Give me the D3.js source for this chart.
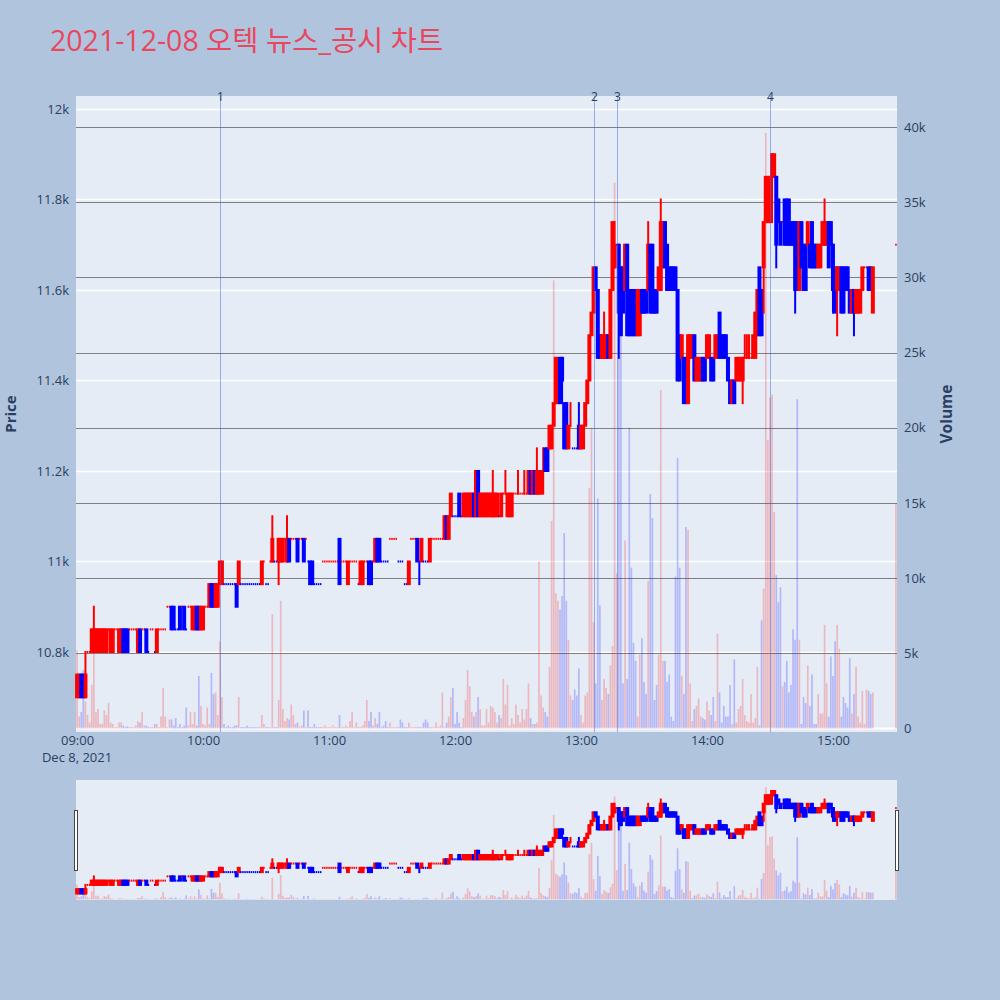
<!DOCTYPE html>
<html><head><meta charset="utf-8">
<script src="https://cdn.jsdelivr.net/npm/d3@7"></script>
<style>
body{margin:0;background:#B0C4DE;}
svg{display:block;font-family:"Open Sans",verdana,arial,"Noto Sans CJK KR",sans-serif;}
</style>
</head><body><svg id="c" width="1000" height="1000"></svg>
<script>
const titleText = "2021-12-08 오텍 뉴스_공시 차트";
const dateLabel = "Dec 8, 2021";

const times = [
"09:00","09:01","09:02","09:03","09:04","09:05","09:06","09:07","09:08","09:09",
"09:10","09:11","09:12","09:13","09:14","09:15","09:16","09:17","09:18","09:19",
"09:20","09:21","09:22","09:23","09:24","09:25","09:26","09:27","09:28","09:29",
"09:30","09:31","09:32","09:33","09:34","09:35","09:36","09:37","09:38","09:39",
"09:40","09:41","09:42","09:43","09:44","09:45","09:46","09:47","09:48","09:49",
"09:50","09:51","09:52","09:53","09:54","09:55","09:56","09:57","09:58","09:59",
"10:00","10:01","10:02","10:03","10:04","10:05","10:06","10:07","10:08","10:09",
"10:10","10:11","10:12","10:13","10:14","10:15","10:16","10:17","10:18","10:19",
"10:20","10:21","10:22","10:23","10:24","10:25","10:26","10:27","10:28","10:29",
"10:30","10:31","10:32","10:33","10:34","10:35","10:36","10:37","10:38","10:39",
"10:40","10:41","10:42","10:43","10:44","10:45","10:46","10:47","10:48","10:49",
"10:50","10:51","10:52","10:53","10:54","10:55","10:56","10:57","10:58","10:59",
"11:00","11:01","11:02","11:03","11:04","11:05","11:06","11:07","11:08","11:09",
"11:10","11:11","11:12","11:13","11:14","11:15","11:16","11:17","11:18","11:19",
"11:20","11:21","11:22","11:23","11:24","11:25","11:26","11:27","11:28","11:29",
"11:30","11:31","11:32","11:33","11:34","11:35","11:36","11:37","11:38","11:39",
"11:40","11:41","11:42","11:43","11:44","11:45","11:46","11:47","11:48","11:49",
"11:50","11:51","11:52","11:53","11:54","11:55","11:56","11:57","11:58","11:59",
"12:00","12:01","12:02","12:03","12:04","12:05","12:06","12:07","12:08","12:09",
"12:10","12:11","12:12","12:13","12:14","12:15","12:16","12:17","12:18","12:19",
"12:20","12:21","12:22","12:23","12:24","12:25","12:26","12:27","12:28","12:29",
"12:30","12:31","12:32","12:33","12:34","12:35","12:36","12:37","12:38","12:39",
"12:40","12:41","12:42","12:43","12:44","12:45","12:46","12:47","12:48","12:49",
"12:50","12:51","12:52","12:53","12:54","12:55","12:56","12:57","12:58","12:59",
"13:00","13:01","13:02","13:03","13:04","13:05","13:06","13:07","13:08","13:09",
"13:10","13:11","13:12","13:13","13:14","13:15","13:16","13:17","13:18","13:19",
"13:20","13:21","13:22","13:23","13:24","13:25","13:26","13:27","13:28","13:29",
"13:30","13:31","13:32","13:33","13:34","13:35","13:36","13:37","13:38","13:39",
"13:40","13:41","13:42","13:43","13:44","13:45","13:46","13:47","13:48","13:49",
"13:50","13:51","13:52","13:53","13:54","13:55","13:56","13:57","13:58","13:59",
"14:00","14:01","14:02","14:03","14:04","14:05","14:06","14:07","14:08","14:09",
"14:10","14:11","14:12","14:13","14:14","14:15","14:16","14:17","14:18","14:19",
"14:20","14:21","14:22","14:23","14:24","14:25","14:26","14:27","14:28","14:29",
"14:30","14:31","14:32","14:33","14:34","14:35","14:36","14:37","14:38","14:39",
"14:40","14:41","14:42","14:43","14:44","14:45","14:46","14:47","14:48","14:49",
"14:50","14:51","14:52","14:53","14:54","14:55","14:56","14:57","14:58","14:59",
"15:00","15:01","15:02","15:03","15:04","15:05","15:06","15:07","15:08","15:09",
"15:10","15:11","15:12","15:13","15:14","15:15","15:16","15:17","15:18","15:19",
"15:30"];

const opens = [
10700,10700,10750,10750,10700,10800,10800,10800,10800,10800,
10800,10800,10800,10800,10800,10850,10800,10800,10850,10850,
10800,10800,10850,10850,10850,10850,10850,10850,10850,10800,
10850,10850,10850,10850,10800,10850,10850,10800,10800,10850,
10850,10850,10850,10900,10900,10900,10900,10850,10850,10900,
10900,10900,10850,10900,10900,10850,10850,10900,10900,10850,
10850,10900,10900,10900,10950,10950,10900,10900,10950,10950,
10950,10950,10950,10950,10950,10950,10950,10950,10950,10950,
10950,10950,10950,10950,10950,10950,10950,10950,10950,11000,
10950,10950,11000,11000,11000,11000,11000,11000,11000,11050,
11000,11050,11050,11050,11050,11050,11050,11050,11050,11050,
11000,11000,11000,10950,10950,10950,10950,11000,11000,11000,
11000,11000,11000,11000,11000,11050,11000,11000,11000,10950,
11000,11000,11000,11000,10950,10950,10950,11000,11000,11000,
11000,11000,11000,11050,11050,11000,11000,11000,11000,11050,
11050,11050,11050,11000,11000,11000,10950,10950,10950,11050,
11050,11050,11050,11000,11000,11000,11000,11000,11000,11050,
11050,11050,11050,11050,11050,11050,11100,11050,11100,11100,
11100,11100,11150,11100,11100,11100,11100,11100,11100,11150,
11100,11200,11100,11100,11100,11100,11100,11100,11100,11100,
11100,11100,11100,11150,11150,11100,11100,11100,11150,11150,
11150,11150,11150,11150,11150,11150,11200,11150,11200,11150,
11150,11150,11200,11250,11250,11250,11250,11300,11350,11350,
11450,11450,11350,11350,11250,11300,11250,11250,11250,11300,
11250,11250,11300,11350,11400,11500,11550,11650,11600,11500,
11450,11450,11450,11500,11450,11600,11650,11700,11700,11650,
11650,11600,11700,11600,11600,11600,11600,11500,11500,11600,
11600,11600,11600,11700,11700,11600,11600,11600,11600,11650,
11750,11700,11650,11650,11650,11650,11600,11500,11450,11450,
11450,11350,11450,11450,11500,11400,11400,11400,11450,11450,
11450,11450,11450,11450,11450,11450,11550,11500,11500,11500,
11450,11400,11350,11400,11400,11400,11400,11400,11450,11450,
11450,11450,11450,11450,11500,11650,11600,11650,11750,11750,
11750,11850,11850,11850,11800,11750,11750,11800,11800,11800,
11750,11750,11750,11750,11600,11750,11700,11700,11700,11700,
11750,11700,11700,11650,11650,11700,11700,11700,11750,11750,
11700,11650,11600,11600,11650,11650,11650,11650,11600,11550,
11600,11550,11550,11550,11600,11650,11650,11650,11650,11550,
11700];

const highs = [
10750,10750,10750,10750,10800,10800,10800,10850,10900,10850,
10850,10850,10850,10850,10850,10850,10850,10850,10850,10850,
10850,10850,10850,10850,10850,10850,10850,10850,10850,10850,
10850,10850,10850,10850,10800,10850,10850,10800,10850,10850,
10850,10850,10850,10900,10900,10900,10900,10850,10850,10900,
10900,10900,10850,10900,10900,10900,10900,10900,10900,10900,
10900,10900,10900,10950,10950,10950,10950,10950,11000,11000,
10950,10950,10950,10950,10950,10950,10950,11000,10950,10950,
10950,10950,10950,10950,10950,10950,10950,10950,11000,11000,
10950,10950,11000,11100,11000,11000,11050,11050,11050,11050,
11100,11050,11050,11050,11050,11050,11050,11050,11050,11050,
11000,11000,11000,10950,10950,10950,10950,11000,11000,11000,
11000,11000,11000,11000,11000,11050,11000,11000,11000,11000,
11000,11000,11000,11000,10950,11000,11000,11000,11000,11000,
11000,11000,11050,11050,11050,11000,11000,11000,11000,11050,
11050,11050,11050,11000,11000,11000,10950,10950,11000,11050,
11050,11050,11050,11000,11050,11000,11000,11000,11050,11050,
11050,11050,11050,11050,11050,11100,11100,11100,11150,11100,
11100,11100,11150,11100,11150,11150,11150,11150,11150,11150,
11200,11200,11150,11150,11150,11150,11150,11150,11200,11150,
11150,11100,11150,11150,11200,11150,11150,11150,11150,11150,
11200,11150,11150,11200,11150,11200,11200,11200,11200,11250,
11200,11200,11250,11250,11250,11300,11300,11350,11450,11450,
11450,11450,11350,11350,11300,11350,11250,11250,11250,11350,
11300,11300,11350,11400,11500,11550,11650,11650,11600,11500,
11500,11550,11500,11500,11600,11750,11750,11700,11700,11650,
11650,11700,11700,11600,11600,11600,11600,11600,11600,11600,
11600,11600,11750,11700,11700,11600,11600,11650,11800,11750,
11750,11700,11650,11650,11650,11650,11600,11500,11500,11450,
11450,11500,11500,11500,11500,11450,11450,11450,11450,11450,
11500,11500,11450,11450,11500,11500,11550,11500,11500,11500,
11450,11400,11400,11400,11450,11450,11450,11450,11500,11500,
11500,11450,11500,11550,11600,11650,11600,11750,11850,11850,
11850,11900,11900,11850,11800,11750,11750,11800,11800,11800,
11750,11750,11750,11750,11750,11750,11700,11700,11750,11700,
11750,11700,11700,11700,11700,11750,11800,11750,11750,11750,
11700,11650,11650,11650,11650,11650,11650,11650,11600,11600,
11600,11600,11600,11600,11650,11650,11650,11650,11650,11650,
11700];

const lows = [
10700,10700,10700,10700,10700,10800,10800,10800,10800,10800,
10800,10800,10800,10800,10800,10850,10800,10800,10850,10850,
10800,10800,10800,10800,10800,10850,10850,10850,10850,10800,
10800,10850,10850,10800,10800,10850,10850,10800,10800,10850,
10850,10850,10850,10900,10900,10850,10850,10850,10850,10850,
10900,10850,10850,10900,10900,10850,10850,10850,10850,10850,
10850,10900,10900,10900,10900,10900,10900,10900,10950,10950,
10950,10950,10950,10950,10950,10950,10900,10950,10950,10950,
10950,10950,10950,10950,10950,10950,10950,10950,10950,11000,
10950,10950,11000,11000,11000,11000,10950,11000,11000,11050,
11000,11000,11050,11050,11050,11000,11050,11050,11000,11050,
11000,10950,10950,10950,10950,10950,10950,11000,11000,11000,
11000,11000,11000,11000,11000,10950,11000,11000,11000,10950,
11000,11000,11000,11000,10950,10950,10950,11000,11000,10950,
10950,11000,11000,11000,11000,11000,11000,11000,11000,11050,
11050,11050,11050,11000,11000,11000,10950,10950,10950,11050,
11050,11050,11000,10950,11000,11000,11000,11000,11000,11050,
11050,11050,11050,11050,11050,11050,11050,11050,11100,11100,
11100,11100,11100,11100,11100,11100,11100,11100,11100,11100,
11100,11100,11100,11100,11100,11100,11100,11100,11100,11100,
11100,11100,11100,11150,11150,11100,11100,11100,11150,11150,
11150,11150,11150,11150,11150,11150,11150,11150,11150,11150,
11150,11150,11150,11200,11200,11250,11250,11300,11350,11350,
11350,11350,11250,11250,11250,11300,11250,11250,11250,11250,
11250,11250,11300,11350,11400,11500,11550,11600,11450,11450,
11450,11450,11450,11450,11450,11600,11650,11700,11450,11500,
11550,11600,11500,11500,11500,11500,11500,11500,11500,11550,
11550,11550,11600,11550,11550,11550,11550,11600,11600,11650,
11650,11600,11600,11600,11600,11600,11400,11400,11450,11350,
11350,11350,11450,11450,11400,11400,11400,11400,11400,11400,
11450,11450,11400,11400,11450,11450,11450,11450,11450,11450,
11400,11350,11350,11350,11400,11400,11400,11350,11450,11450,
11450,11450,11450,11450,11500,11500,11500,11550,11750,11750,
11750,11750,11850,11650,11750,11700,11750,11700,11700,11700,
11700,11700,11550,11600,11600,11650,11600,11600,11700,11650,
11650,11650,11650,11650,11650,11700,11700,11700,11650,11700,
11550,11550,11500,11600,11550,11550,11600,11600,11550,11550,
11500,11550,11550,11550,11600,11650,11650,11600,11600,11550,
11700];

const closes = [
10750,10750,10700,10700,10750,10800,10800,10850,10850,10850,
10850,10850,10850,10850,10850,10850,10850,10850,10850,10850,
10850,10850,10800,10800,10800,10850,10850,10850,10850,10850,
10800,10850,10850,10800,10800,10850,10850,10800,10850,10850,
10850,10850,10850,10900,10900,10850,10850,10850,10850,10850,
10900,10850,10850,10900,10900,10900,10900,10850,10850,10900,
10900,10900,10900,10950,10900,10900,10950,10950,11000,11000,
10950,10950,10950,10950,10950,10950,10900,11000,10950,10950,
10950,10950,10950,10950,10950,10950,10950,10950,11000,11000,
10950,10950,11000,11050,11000,11000,11050,11050,11050,11050,
11050,11000,11050,11050,11050,11000,11050,11050,11000,11050,
11000,10950,10950,10950,10950,10950,10950,11000,11000,11000,
11000,11000,11000,11000,11000,10950,11000,11000,11000,11000,
11000,11000,11000,11000,10950,11000,11000,11000,11000,10950,
10950,11000,11050,11000,11000,11000,11000,11000,11000,11050,
11050,11050,11050,11000,11000,11000,10950,10950,11000,11050,
11050,11050,11000,11000,11050,11000,11000,11000,11050,11050,
11050,11050,11050,11050,11050,11100,11050,11100,11150,11100,
11100,11100,11100,11100,11150,11150,11150,11150,11150,11100,
11200,11100,11150,11150,11150,11150,11150,11150,11150,11150,
11150,11100,11150,11150,11150,11150,11150,11150,11150,11150,
11150,11150,11150,11150,11150,11200,11150,11200,11150,11200,
11200,11200,11200,11200,11200,11300,11300,11350,11450,11450,
11350,11400,11250,11250,11300,11300,11250,11250,11250,11250,
11300,11300,11350,11400,11500,11550,11650,11600,11450,11450,
11500,11500,11500,11450,11600,11750,11700,11700,11550,11500,
11550,11700,11500,11500,11500,11500,11500,11600,11600,11550,
11550,11550,11700,11550,11550,11550,11550,11650,11750,11750,
11650,11600,11600,11600,11600,11600,11400,11400,11500,11350,
11350,11500,11500,11500,11400,11450,11450,11450,11400,11400,
11500,11500,11400,11400,11500,11500,11450,11450,11450,11450,
11400,11350,11400,11350,11450,11450,11450,11450,11450,11450,
11450,11450,11500,11550,11600,11500,11500,11750,11850,11850,
11850,11900,11900,11700,11750,11700,11750,11700,11700,11700,
11700,11700,11600,11600,11750,11650,11600,11600,11750,11650,
11650,11650,11650,11700,11700,11750,11750,11750,11650,11700,
11600,11550,11650,11650,11550,11550,11600,11600,11550,11600,
11550,11600,11600,11600,11650,11650,11650,11600,11600,11650,
11700];

const volumes = [
5200,800,1100,3900,1800,900,400,2900,8000,1100,
1300,300,300,1200,900,1700,400,300,100,100,
400,400,200,100,150,100,100,100,200,500,
400,1100,200,200,100,100,100,300,300,100,
800,2700,800,100,600,600,200,700,100,300,
100,200,1400,200,1100,300,1100,200,3500,1500,
300,200,1400,300,3700,2300,2400,900,5800,2100,
300,100,200,100,100,200,200,2100,100,100,
100,200,100,100,100,100,100,100,900,300,
100,100,100,7600,100,100,1900,8500,1300,500,
700,600,1600,900,300,400,100,200,1200,100,
1200,100,100,300,100,100,100,100,200,100,
100,100,200,100,100,900,100,100,200,100,
500,1100,100,400,100,100,200,500,1900,500,
1100,200,700,300,1100,100,200,500,100,400,
100,100,100,100,600,400,100,100,400,100,
100,100,100,100,100,400,600,400,100,100,
100,400,100,200,2400,100,400,800,2100,2700,
300,1100,400,100,700,1900,3900,2800,1100,800,
1100,2100,1300,200,200,1300,400,1500,1400,1100,
400,900,700,3300,1600,2900,200,700,300,1600,
900,400,1300,600,1300,3000,700,300,300,400,
11100,2200,1400,1100,800,4100,13800,29800,9000,8500,
7900,8800,13000,8500,5900,2200,1900,2600,2200,4000,
900,400,2200,2400,16000,20000,7100,3000,15300,8200,
1900,3300,2700,2300,4200,5500,36300,10300,26000,30000,
3000,12500,3300,20000,10700,5700,4500,800,4900,6000,
3100,2300,9800,15600,14000,1900,2900,4900,22500,4500,
4500,3100,3600,800,500,10100,18000,10700,3500,2300,
13400,13200,3000,500,1300,1500,2000,800,700,600,
1800,1200,900,2100,500,6300,2400,400,1500,800,
800,2900,300,4600,400,1300,1500,3300,900,500,
400,2300,400,700,4100,200,7200,9300,39600,19200,
22000,22200,14400,10200,8400,9400,2800,3100,4500,2400,
2900,6600,5900,21900,5900,300,2100,1700,4200,1500,
3600,300,300,2300,1000,1000,6900,3000,800,4800,
3500,5800,6900,5300,800,2100,1700,1400,4700,1000,
2300,4100,800,400,2500,300,2600,2500,2300,2400,
15000];

const priceTicks = [10800, 11000, 11200, 11400, 11600, 11800, 12000];
const priceTickLabels = ["10.8k", "11k", "11.2k", "11.4k", "11.6k", "11.8k", "12k"];
const volumeTicks = [0, 5000, 10000, 15000, 20000, 25000, 30000, 35000, 40000];
const volumeTickLabels = ["0", "5k", "10k", "15k", "20k", "25k", "30k", "35k", "40k"];
const xTickTimes = ["09:00", "10:00", "11:00", "12:00", "13:00", "14:00", "15:00"];
const eventTimes = ["10:08", "13:06", "13:17", "14:30"];
const eventLabels = ["1", "2", "3", "4"];

// ---------- layout ----------
const W = 1000, H = 1000;
const plot = {left: 76, right: 897, top: 96, bottom: 732};
const slider = {top: 780, bottom: 900};
const INK = "#2a3f5f";
const UP = "#ff0000", DOWN = "#0000ff";
const FONT = "'Open Sans', verdana, arial, sans-serif";

const svg = d3.select("#c");
const parse = d3.timeParse("%H:%M");
const x0 = d3.timeSecond.offset(parse("09:00"), -30);
const x1 = d3.timeSecond.offset(parse("15:30"), 30);
const x = d3.scaleTime().domain([x0, x1]).range([plot.left, plot.right]);

const yP = d3.scaleLinear().domain([10623.2, 12028.7]).range([plot.bottom, plot.top]);
const yV = d3.scaleLinear().domain([-230, 42060]).range([plot.bottom, plot.top]);
const yPs = d3.scaleLinear().domain(yP.domain()).range([slider.bottom, slider.top]);
const yVs = d3.scaleLinear().domain(yV.domain()).range([slider.bottom, slider.top]);

// build records & plotly-like direction
const data = [];
let inc = true, prevC = null;
times.forEach((t, i) => {
  const o = opens[i], h = highs[i], l = lows[i], c = closes[i];
  if (c === o) { if (prevC !== null && c !== prevC) inc = c > prevC; }
  else inc = c > o;
  prevC = c;
  data.push({t: parse(t), o, h, l, c, v: volumes[i], up: inc});
});

// background
svg.append("rect").attr("width", W).attr("height", H).attr("fill", "#B0C4DE");

// title
svg.append("text").attr("x", 50).attr("y", 51).attr("font-size", 28.5)
  .attr("fill", "#E9475E").text(titleText);

// main plot bg
svg.append("rect").attr("x", plot.left).attr("y", plot.top)
  .attr("width", plot.right - plot.left).attr("height", plot.bottom - plot.top)
  .attr("fill", "#E5ECF6");

// gridlines
const grid = svg.append("g");
grid.selectAll(".gp").data(priceTicks).join("line")
  .attr("x1", plot.left).attr("x2", plot.right)
  .attr("y1", d => Math.round(yP(d)) + 0.5).attr("y2", d => Math.round(yP(d)) + 0.5)
  .attr("stroke", "#ffffff").attr("stroke-width", 1.5);
grid.selectAll(".gv").data(volumeTicks.filter(d => d > 0)).join("line")
  .attr("x1", plot.left).attr("x2", plot.right)
  .attr("y1", d => Math.round(yV(d)) + 0.5).attr("y2", d => Math.round(yV(d)) + 0.5)
  .attr("stroke", "#808080").attr("stroke-width", 1.2);
grid.append("line").attr("x1", plot.left).attr("x2", plot.right)
  .attr("y1", yV(0)).attr("y2", yV(0)).attr("stroke", "#ffffff").attr("stroke-width", 2);

function drawSeries(g, ys, yv) {
  const cg = g.append("g");
  const cs = data.filter(d => d.o != null);
  cs.forEach(d => {
    const col = d.up ? UP : DOWN;
    const cx = x(d.t);
    const top = ys(Math.max(d.o, d.c)), bot = ys(Math.min(d.o, d.c));
    if (d.h > Math.max(d.o, d.c) || d.l < Math.min(d.o, d.c)) {
      cg.append("line").attr("x1", cx).attr("x2", cx)
        .attr("y1", ys(d.h) - 1).attr("y2", ys(d.l) + 1)
        .attr("stroke", col).attr("stroke-width", 2);
    }
    if (d.o === d.c) {
      // flat candle: plotly draws a zero-height body -> a short dash
      cg.append("rect").attr("x", cx - 0.75).attr("y", top - 1)
        .attr("width", 1.5).attr("height", 2).attr("fill", col);
    } else {
      cg.append("rect").attr("x", cx - 2).attr("y", top - 1)
        .attr("width", 4).attr("height", bot - top + 2).attr("fill", col);
    }
  });
  const vg = g.append("g");
  vg.selectAll("rect").data(data.filter(d => d.v != null)).join("rect")
    .attr("x", d => x(d.t) - 0.85).attr("width", 1.7)
    .attr("y", d => yv(d.v)).attr("height", d => yv(0) - yv(d.v))
    .attr("fill", d => d.up ? "rgba(255,0,0,0.22)" : "rgba(0,0,255,0.22)");
}

const mainG = svg.append("g");
drawSeries(mainG, yP, yV);

// event lines
const evG = svg.append("g");
eventTimes.forEach((t, i) => {
  const ex = Math.round(x(parse(t))) + 0.5;
  evG.append("line").attr("x1", ex).attr("x2", ex).attr("y1", plot.top).attr("y2", plot.bottom)
    .attr("stroke", "rgba(65,105,225,0.5)").attr("stroke-width", 1);
  evG.append("text").attr("x", ex).attr("y", 101).attr("text-anchor", "middle")
    .attr("font-size", 12).attr("fill", INK).attr("font-family", FONT).text(eventLabels[i]);
});

// axes
const axL = svg.append("g").attr("transform", `translate(${plot.left - 4},0)`)
  .call(d3.axisLeft(yP).tickValues(priceTicks).tickSize(0)
    .tickFormat((d, i) => priceTickLabels[i]));
axL.select(".domain").remove();
axL.selectAll("text").attr("font-size", 13).attr("fill", INK).attr("font-family", FONT);

const axR = svg.append("g").attr("transform", `translate(${plot.right + 4},0)`)
  .call(d3.axisRight(yV).tickValues(volumeTicks).tickSize(0)
    .tickFormat((d, i) => volumeTickLabels[i]));
axR.select(".domain").remove();
axR.selectAll("text").attr("font-size", 13).attr("fill", INK).attr("font-family", FONT);

const axB = svg.append("g").attr("transform", `translate(0,${plot.bottom + 1})`)
  .call(d3.axisBottom(x).tickValues(xTickTimes.map(parse)).tickSize(0)
    .tickFormat(d3.timeFormat("%H:%M")));
axB.select(".domain").remove();
axB.selectAll("text").attr("font-size", 13).attr("fill", INK).attr("font-family", FONT);
svg.append("text").attr("x", x(parse(xTickTimes[0]))).attr("y", 762)
  .attr("text-anchor", "middle").attr("font-size", 13).attr("fill", INK)
  .attr("font-family", FONT).text(dateLabel);

// axis titles
svg.append("text").attr("transform", `translate(16,${(plot.top + plot.bottom) / 2}) rotate(-90)`)
  .attr("text-anchor", "middle").attr("font-size", 15).attr("font-weight", "bold")
  .attr("fill", INK).attr("font-family", FONT).text("Price");
svg.append("text").attr("transform", `translate(952,${(plot.top + plot.bottom) / 2}) rotate(-90)`)
  .attr("text-anchor", "middle").attr("font-size", 15.5).attr("font-weight", "bold")
  .attr("fill", INK).attr("font-family", FONT).text("Volume");

// range slider
svg.append("rect").attr("x", plot.left).attr("y", slider.top)
  .attr("width", plot.right - plot.left).attr("height", slider.bottom - slider.top)
  .attr("fill", "#E5ECF6");
const sg = svg.append("g");
drawSeries(sg, yPs, yVs);
const hh = (slider.bottom - slider.top) / 2;
[plot.left - 2, plot.right - 2].forEach(hx => {
  svg.append("rect").attr("x", hx + 0.5).attr("y", slider.top + hh / 2 + 0.5)
    .attr("width", 3).attr("height", hh)
    .attr("fill", "#ffffff").attr("stroke", "#444").attr("stroke-width", 1);
});
</script>
</body></html>
